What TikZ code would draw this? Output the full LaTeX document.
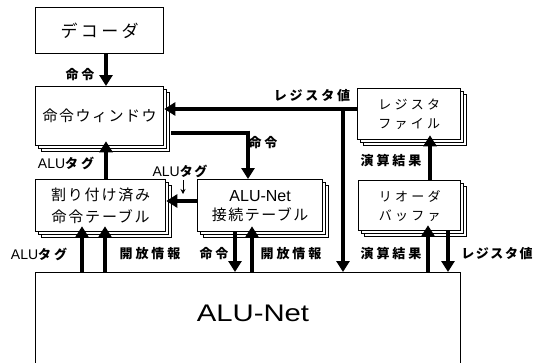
\documentclass[tikz,border=0pt]{standalone}
\usepackage{fontspec}
\setmainfont{Liberation Sans}
\newfontfamily\jp{Noto Sans CJK JP}
\newfontfamily\jpA[LetterSpace=20]{Noto Sans CJK JP}
\newfontfamily\jpB[LetterSpace=10]{Noto Sans CJK JP}
\newfontfamily\jpC[LetterSpace=25]{Noto Sans CJK JP}
\newfontfamily\jpL[LetterSpace=22]{Noto Sans CJK JP}
\newfontfamily\jpS[LetterSpace=12]{Noto Sans CJK JP}
\usetikzlibrary{arrows.meta,shadows}
\begin{document}
\begin{tikzpicture}[x=1pt,y=-1pt,
  box/.style={draw=black, line width=1.3pt, fill=white, anchor=north west, inner sep=0pt, align=center},
  stack/.style={box, double copy shadow={shadow xshift=3pt, shadow yshift=-3pt, draw=black, fill=white, line width=1pt}},
  arr/.style={line width=4.6pt, -{Triangle[length=11pt,width=13pt]}},
  thinarr/.style={line width=1pt, -{Stealth[length=5pt,width=5pt]}},
  lab/.style={inner sep=0pt, font=\jpL\bfseries\fontsize{13}{15}\selectfont},
  labS/.style={inner sep=0pt, font=\jpS\bfseries\fontsize{13}{15}\selectfont}]
\clip (0,0) rectangle (536,362);
\fill[white] (0,0) rectangle (536,362);

% boxes
\node[box, minimum width=128pt, minimum height=46pt, font=\jpA\fontsize{17}{20}\selectfont] (dec) at (35,7) {デコーダ};
\node[stack, minimum width=128pt, minimum height=59pt, font=\jpB\fontsize{15}{18}\selectfont] (win) at (35,86) {命令ウィンドウ};
\node[stack, minimum width=130pt, minimum height=52pt, font=\jpS\fontsize{15}{22}\selectfont] (asg) at (35,179) {割り付け済み\\命令テーブル};
\node[stack, minimum width=125pt, minimum height=52pt, font=\jpB\fontsize{15}{19}\selectfont] (con) at (197,179) {{\rmfamily\fontsize{16}{19}\selectfont ALU-Net}\\接続テーブル};
\node[stack, minimum width=103pt, minimum height=51pt, font=\jpC\fontsize{13}{19}\selectfont] (reg) at (357,88) {レジスタ\\ファイル};
\node[stack, minimum width=102pt, minimum height=50pt, font=\jpC\fontsize{13}{19}\selectfont] (rob) at (358,180) {リオーダ\\バッファ};
\node[box, minimum width=425pt, minimum height=120pt] (alu) at (35,272) {};
\node[inner sep=0pt, font=\fontsize{24}{28}\selectfont] (alut) at (253,313) {\scalebox{1.22}[1]{ALU-Net}};

% connectors
\draw[arr] (dec.south -| 106,0) -- (win.north -| 106,0);
\node[lab] (l1) at (80,75) {命令};

\coordinate (busj) at (343,109);
\draw[arr] (reg.west |- 0,109) -- (win.east |- 0,109);
\draw[arr] (busj) -- (alu.north -| 343,0);
\node[lab] (l2) at (312,96) {レジスタ値};

\draw[line width=4.6pt] (171,133) -- (248,133);
\draw[arr] (248,130.7) -- (con.north -| 248,0);
\node[lab] (l3) at (263,143) {命令};

\draw[arr, shorten >=-5pt] (asg.north -| 106,0) -- (win.south -| 106,0);
\node[lab] (l4) at (66,163) {{\rmfamily\mdseries\fontsize{14}{15}\selectfont ALU}タグ};

\draw[arr] (con.west |- 0,201) -- (asg.east |- 0,201);
\node[labS] (l5) at (180,171) {{\rmfamily\mdseries\fontsize{14}{15}\selectfont ALU}タグ};
\coordinate (l5tip) at (183,194);
\draw[thinarr] (183,180) -- (l5tip);

\draw[arr, shorten >=-5pt] (rob.north -| 430,0) -- (reg.south -| 430,0);
\node[lab] (l6) at (391,161) {演算結果};

% bottom connectors
\draw[arr, shorten >=-6pt] (alu.north -| 82,0) -- (asg.south -| 82,0);
\node[lab] (b1) at (39,254) {{\rmfamily\mdseries\fontsize{14}{15}\selectfont ALU}タグ};
\draw[arr, shorten >=-6pt] (alu.north -| 105,0) -- (asg.south -| 105,0);
\node[lab] (b2) at (150,254) {開放情報};
\draw[arr] (con.south -| 235,0) -- (alu.north -| 235,0);
\node[lab] (b3) at (214,254) {命令};
\draw[arr, shorten >=-6pt] (alu.north -| 252,0) -- (con.south -| 252,0);
\node[lab] (b4) at (291,254) {開放情報};
\draw[arr, shorten >=-6pt] (alu.north -| 428,0) -- (rob.south -| 428,0);
\node[lab] (b5) at (391,254) {演算結果};
\draw[arr] (rob.south -| 448,0) -- (alu.north -| 448,0);
\node[labS] (b6) at (497,254) {レジスタ値};
\end{tikzpicture}
\end{document}
